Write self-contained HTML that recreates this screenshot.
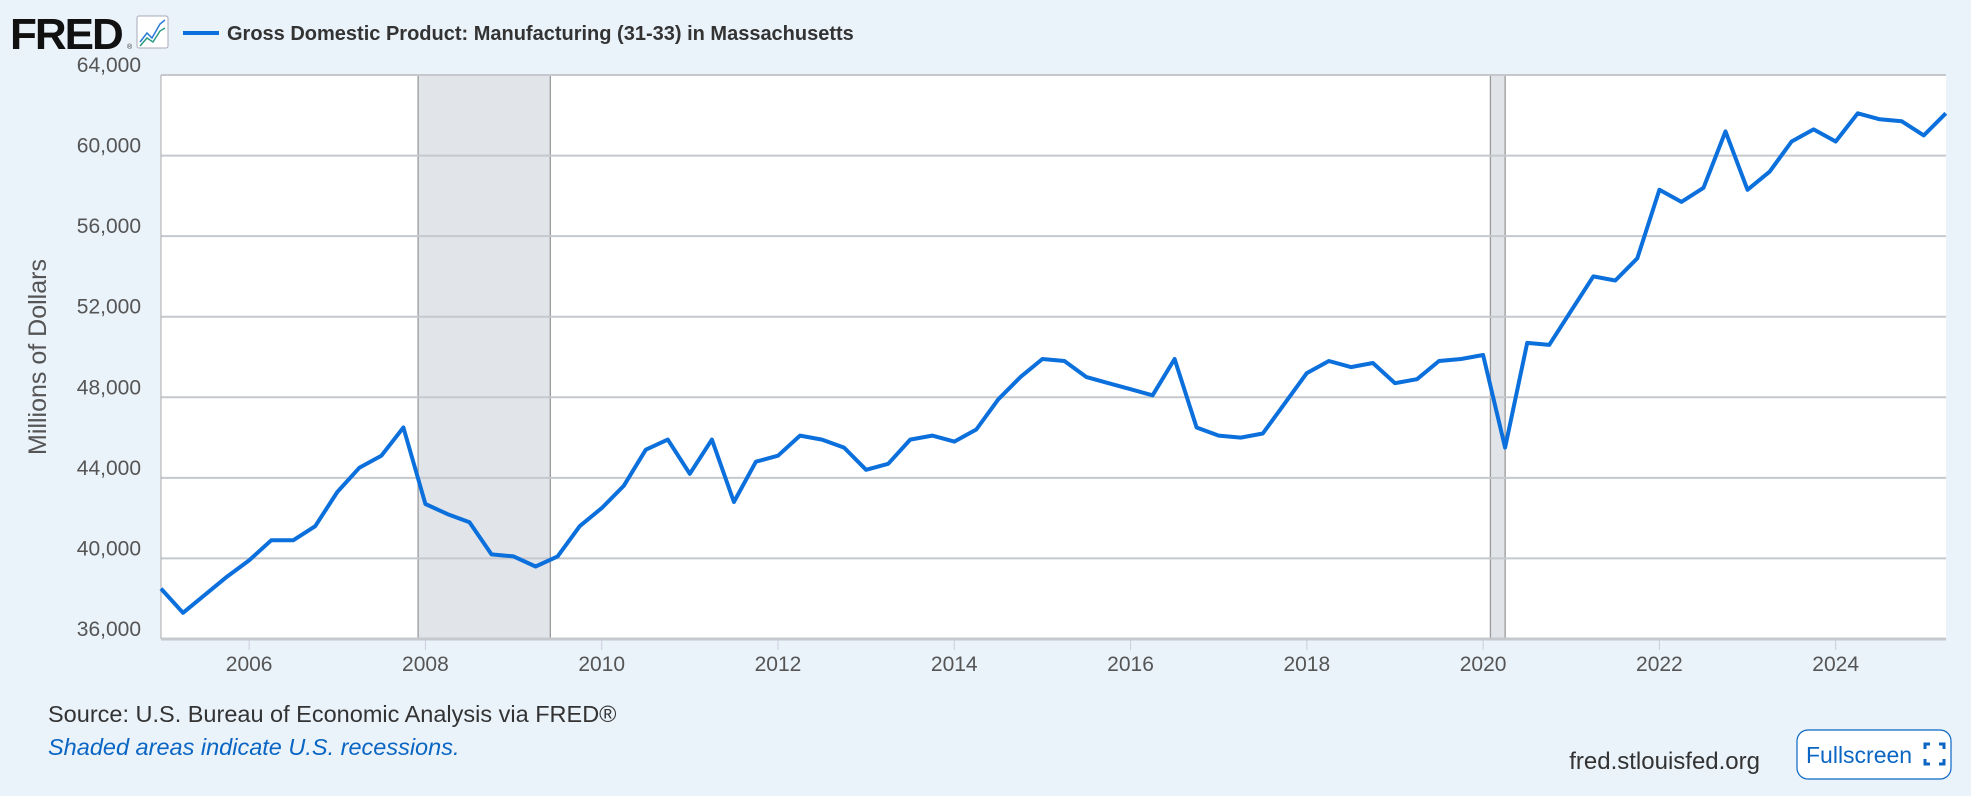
<!DOCTYPE html>
<html><head><meta charset="utf-8"><style>
html,body{margin:0;padding:0;background:#eaf2fa;}
svg{display:block;font-family:"Liberation Sans",sans-serif;}
</style></head><body>
<svg id="s" width="1971" height="796" viewBox="0 0 1971 796" xmlns="http://www.w3.org/2000/svg">
<rect width="1971" height="796" fill="#eaf2fa"/>
<text x="10" y="49" font-size="44" font-weight="bold" fill="#111" letter-spacing="-2">FRED</text>
<text x="127" y="49" font-size="7" fill="#333">®</text>
<rect x="137" y="16" width="31" height="32" fill="#fff" stroke="#aab" rx="2"/>
<polyline points="140,42 147,33 152,38 160,24 165,20" fill="none" stroke="#2a7bd8" stroke-width="1.5"/>
<polyline points="140,46 147,38 153,42 160,31 165,28" fill="none" stroke="#2a9a80" stroke-width="1.5"/>
<line x1="183" y1="33" x2="219" y2="33" stroke="#0b6fdc" stroke-width="4"/>
<text x="227" y="40" font-size="20" font-weight="bold" fill="#333">Gross Domestic Product: Manufacturing (31-33) in Massachusetts</text>
<rect x="161" y="75" width="1785" height="564" fill="#fff"/>
<g id="rec"></g>
<g id="grid"></g>
<line x1="161" y1="75" x2="161" y2="639" stroke="#aaa" stroke-width="1"/>
<line x1="161" y1="639" x2="1946" y2="639" stroke="#c5c8cc" stroke-width="3"/>
<text transform="translate(46,357) rotate(-90)" text-anchor="middle" font-size="25" fill="#555">Millions of Dollars</text>
<polyline id="ln" fill="none" stroke="#0b6fdc" stroke-width="4" stroke-linejoin="round"/>
<text x="48" y="722" font-size="23.5" fill="#333">Source: U.S. Bureau of Economic Analysis via FRED®</text>
<text x="48" y="755" font-size="23.5" font-style="italic" fill="#0b66c3">Shaded areas indicate U.S. recessions.</text>
<text x="1760" y="769" font-size="24" fill="#333" text-anchor="end">fred.stlouisfed.org</text>
<rect x="1797" y="730" width="154" height="49" rx="11" fill="#fff" stroke="#0b66c3" stroke-width="1.2"/>
<text x="1806" y="763" font-size="23" fill="#0b66c3">Fullscreen</text>
<path d="M1925 749 v-5 h5 M1939 744 h5 v5 M1944 759 v5 h-5 M1930 764 h-5 v-5" fill="none" stroke="#0b66c3" stroke-width="3"/>
</svg>
<script>
var NS="http://www.w3.org/2000/svg";
function X(t){return 161+(t-2005)*88.14;}
function Y(v){return 639-(v-36000)/4000*80.57;}
function el(p,n,a,txt){var e=document.createElementNS(NS,n);for(var k in a)e.setAttribute(k,a[k]);if(txt)e.textContent=txt;document.getElementById(p).appendChild(e);return e;}
[[2007.917,2009.417],[2020.083,2020.25]].forEach(function(r){
 el("rec","rect",{x:X(r[0]),y:75,width:X(r[1])-X(r[0]),height:564,fill:"#e1e5ea"});
 el("rec","line",{x1:X(r[0]),y1:75,x2:X(r[0]),y2:639,stroke:"#999","stroke-width":1.3});
 el("rec","line",{x1:X(r[1]),y1:75,x2:X(r[1]),y2:639,stroke:"#999","stroke-width":1.3});
});
for(var v=36000;v<=64000;v+=4000){
 if(v>36000)el("grid","line",{x1:161,y1:Y(v),x2:1946,y2:Y(v),stroke:"#c5c8cc","stroke-width":2});
 el("grid","text",{x:141,y:Y(v)-3,"text-anchor":"end","font-size":21,fill:"#555"},v.toLocaleString("en-US"));
}
for(var y=2006;y<=2024;y+=2){
 el("grid","line",{x1:X(y),y1:640,x2:X(y),y2:650,stroke:"#ccd","stroke-width":1});
 el("grid","text",{x:X(y),y:671,"text-anchor":"middle","font-size":21,fill:"#555"},""+y);
}
var d=[38500,37300,38200,39100,39900,40900,40900,41600,43300,44500,45100,46500,42700,42200,41800,40200,40100,39600,40100,41600,42500,43600,45400,45900,44200,45900,42800,44800,45100,46100,45900,45500,44400,44700,45900,46100,45800,46400,47900,49000,49900,49800,49000,48700,48400,48100,49900,46500,46100,46000,46200,47700,49200,49800,49500,49700,48700,48900,49800,49900,50100,45500,50700,50600,52300,54000,53800,54900,58300,57700,58400,61200,58300,59200,60700,61300,60700,62100,61800,61700,61000,62100];
var pts=d.map(function(v,i){return X(2005+i*0.25).toFixed(1)+","+Y(v).toFixed(1);}).join(" ");
document.getElementById("ln").setAttribute("points",pts);
</script>
</body></html>
